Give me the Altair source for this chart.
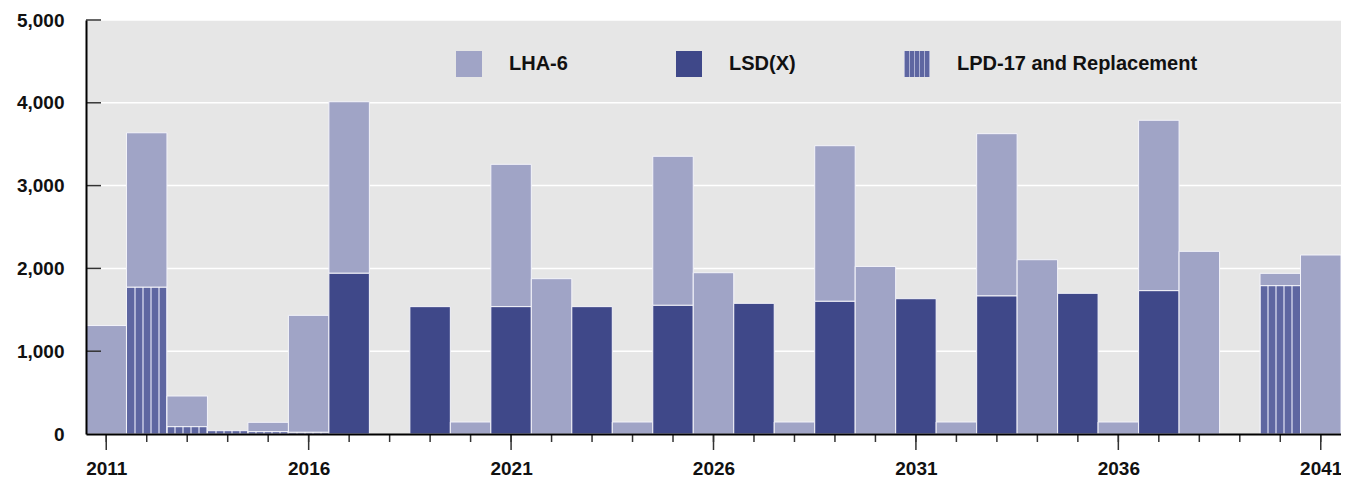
import altair as alt
import pandas as pd

years = list(range(2011, 2042))
lha6 = [1310, 1866, 371, 0, 113, 1413, 2072, 0, 0, 145,
        1719, 1876, 0, 145, 1800, 1948, 0, 145, 1880, 2024,
        0, 145, 1960, 2105, 0, 145, 2058, 2206, 0, 149,
        2162]
lsdx = [0, 0, 0, 0, 0, 0, 1941, 0, 1538, 0,
        1538, 0, 1538, 0, 1554, 0, 1578, 0, 1602, 0,
        1634, 0, 1667, 0, 1699, 0, 1731, 0, 0, 0,
        0]
lpd17 = [0, 1772, 88, 40, 28, 20] + [0] * 23 + [1791, 0]

series = ["LHA-6", "LSD(X)", "LPD-17 and Replacement"]
stack_order = {"LPD-17 and Replacement": 0, "LSD(X)": 1, "LHA-6": 2}
y_ticks = [0, 1000, 2000, 3000, 4000, 5000]
major_years = [2011, 2016, 2021, 2026, 2031, 2036, 2041]

rows = []
for i, yr in enumerate(years):
    for name, vals in zip(series, [lha6, lsdx, lpd17]):
        rows.append({"year": yr, "series": name, "value": vals[i], "ord": stack_order[name]})
df = pd.DataFrame(rows)

# striped fill for LPD-17 (vertical stripes via hard-stop linear gradient)
light, dark = "#adb1d3", "#5e66a1"
stops = []
n = 5
for k in range(n):
    a = k / n
    b = (k + 1) / n
    stops += [(a, light), (a + 0.025, light), (a + 0.025, dark), (b - 0.025, dark), (b - 0.025, light), (b, light)]
stops_js = ",".join("{offset:%.4f,color:'%s'}" % (o, c) for o, c in stops)
stripe_expr = "{gradient:'linear',x1:0,y1:0,x2:1,y2:0,stops:[" + stops_js + "]}"

W, H = 1255, 414
LABEL_FONT = "Liberation Sans"
BG = "#e6e6e6"

xscale = alt.Scale(domain=[2010.5, 2041.5], nice=False, zero=False)
yscale = alt.Scale(domain=[0, 5000], nice=False)

x_axis = alt.Axis(values=major_years, format="d", ticks=False, grid=False,
                  domainColor="#000", domainWidth=2, zindex=1,
                  labelFont=LABEL_FONT, labelFontSize=19, labelFontWeight="bold",
                  labelColor="#111", labelPadding=25)
y_axis = alt.Axis(values=y_ticks, format=",.0f", ticks=False, grid=False,
                  domainColor="#000", domainWidth=2, zindex=1,
                  labelFont=LABEL_FONT, labelFontSize=19, labelFontWeight="bold",
                  labelColor="#111", labelPadding=22)

grid_df = pd.DataFrame({"v": y_ticks[1:]})

background = alt.Chart(grid_df).mark_rect(color=BG).encode(
    x=alt.value(0), x2=alt.value(W), y=alt.value(0), y2=alt.value(H)
)

grid = alt.Chart(grid_df).mark_rule(color="#ffffff", strokeWidth=1.5).encode(
    y=alt.Y("v:Q", scale=yscale, axis=y_axis, title=None)
)

bars = alt.Chart(df).transform_filter("datum.value > 0").transform_stack(
    stack="value", groupby=["year"], as_=["y0", "y1"],
    sort=[alt.SortField("ord", order="ascending")],
).transform_calculate(
    x0="datum.year - 0.5", x1="datum.year + 0.5"
).mark_bar(stroke="#f4f4fa", strokeWidth=1).encode(
    x=alt.X("x0:Q", scale=xscale, title=None, axis=x_axis),
    x2="x1:Q",
    y=alt.Y("y1:Q", scale=yscale, title=None, axis=y_axis),
    y2="y0:Q",
    color=alt.Color("series:N",
                    scale=alt.Scale(domain=series,
                                    range=["#a0a4c6", "#3f4889", {"expr": stripe_expr}]),
                    legend=alt.Legend(title=None, orient="none", legendX=370, legendY=31,
                                      direction="horizontal",
                                      symbolType="M-1,-1H1V1H-1Z", symbolSize=676,
                                      symbolStrokeWidth=0,
                                      labelFont=LABEL_FONT, labelFontSize=20, labelFontWeight="bold",
                                      labelColor="#111", labelOffset=27, columnPadding=108,
                                      labelLimit=400, padding=0)),
)

minor_ticks = alt.Chart(pd.DataFrame({"year": years})).mark_rule(color="#333", strokeWidth=1.5).encode(
    x=alt.X("year:Q", scale=xscale, axis=x_axis, title=None), y=alt.value(H), y2=alt.value(H + 8)
)
major_ticks = alt.Chart(pd.DataFrame({"year": major_years})).mark_rule(color="#333", strokeWidth=1.5).encode(
    x=alt.X("year:Q", scale=xscale, axis=x_axis, title=None), y=alt.value(H), y2=alt.value(H + 16)
)
y_inner_ticks = alt.Chart(grid_df).mark_rule(color="#333", strokeWidth=1.5).encode(
    y=alt.Y("v:Q", scale=yscale, axis=y_axis, title=None), x=alt.value(0), x2=alt.value(15)
)

chart = alt.layer(background, grid, bars, minor_ticks, major_ticks, y_inner_ticks).properties(
    width=W, height=H,
    autosize=alt.AutoSizeParams(type="none"),
    padding={"left": 78, "top": 12, "right": 0, "bottom": 50},
).configure_view(fill=BG, stroke=None).configure(background="#ffffff")

chart.save("out.html", embed_options={"renderer": "svg", "actions": False})
